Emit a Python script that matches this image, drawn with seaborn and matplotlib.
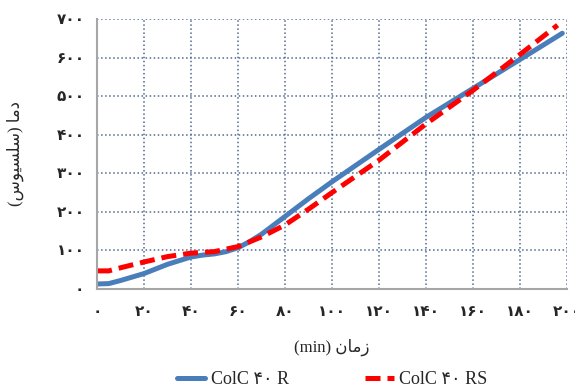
import matplotlib
matplotlib.use('Agg')
import matplotlib.pyplot as plt
import pandas as pd
import seaborn as sns

# data
time_r = [0, 5, 10, 20, 30, 40, 45, 50, 55, 60, 65, 70, 80, 90, 100, 120, 140, 160, 180, 198]
temp_r = [13, 14, 22, 40, 64, 83, 88, 91, 97, 107, 123, 142, 188, 234, 278, 362, 445, 520, 595, 663]
time_rs = [0, 5, 10, 20, 30, 40, 50, 60, 70, 80, 90, 100, 120, 140, 160, 180, 196]
temp_rs = [47, 47, 55, 70, 84, 93, 97, 110, 135, 166, 207, 250, 334, 428, 515, 608, 684]

label_r = 'ColC ۴۰ R'
label_rs = 'ColC ۴۰ RS'

x_ticks = [0, 20, 40, 60, 80, 100, 120, 140, 160, 180, 200]
y_ticks = [0, 100, 200, 300, 400, 500, 600, 700]

# Persian text written in visual order with presentation forms (no shaping engine)
x_title = '(min) \uFEE5\uFE8E\uFEE3\uFEAF'                                  # زمان (min)
y_title = '(\uFEB1\uFEEE\uFEF4\uFEB4\uFEE0\uFEB3) \uFE8E\uFEE3\uFEA9'       # دما (سلسیوس)

fa_digits = str.maketrans('0123456789', '۰۱۲۳۴۵۶۷۸۹')
def to_fa(n):
    return str(n).translate(fa_digits)

df = pd.concat([
    pd.DataFrame({'time': time_r, 'temp': temp_r, 'series': label_r}),
    pd.DataFrame({'time': time_rs, 'temp': temp_rs, 'series': label_rs}),
])

sns.set_style('white')
plt.rcParams['font.family'] = ['Liberation Serif', 'DejaVu Sans']

fig = plt.figure(figsize=(5.75, 3.92), dpi=100)
ax = fig.add_axes([97/575, 1 - 289/392, 470/575, 270/392])

sns.lineplot(data=df, x='time', y='temp', hue='series', style='series',
             palette={label_r: '#4a7ebb', label_rs: '#ff0000'},
             dashes={label_r: '', label_rs: (3, 1.4)},
             linewidth=3.6, sort=False, ax=ax)

ax.set_xlim(0, 200)
ax.set_ylim(0, 700)
ax.set_xticks(x_ticks)
ax.set_xticklabels([to_fa(v) for v in x_ticks])
ax.set_yticks(y_ticks)
ax.set_yticklabels([to_fa(v) for v in y_ticks])
ax.tick_params(axis='both', labelsize=11, length=4, width=1, color='#a0a0a0',
               direction='out')
ax.tick_params(axis='x', pad=8)
ax.tick_params(axis='y', pad=5)
for lab in ax.get_xticklabels() + ax.get_yticklabels():
    lab.set_fontweight('bold')

ax.grid(True, linestyle=':', color='#4f6a8f', linewidth=1.1)
for s in ['top', 'right']:
    ax.spines[s].set_visible(False)
for s in ['left', 'bottom']:
    ax.spines[s].set_color('#a6a6a6')
    ax.spines[s].set_linewidth(1.5)

ax.set_xlabel(x_title, fontsize=12)
ax.xaxis.set_label_coords(0.5, -0.185)
ax.set_ylabel(y_title, fontsize=12)
ax.yaxis.set_label_coords(-0.155, 0.5)

handles, labels = ax.get_legend_handles_labels()
ax.legend(handles, labels, loc='center', bbox_to_anchor=(0.5, -0.335),
          ncol=2, frameon=False, fontsize=13, handlelength=1.6,
          handletextpad=0.3, columnspacing=4.2)

fig.savefig('out.png', dpi=100)
